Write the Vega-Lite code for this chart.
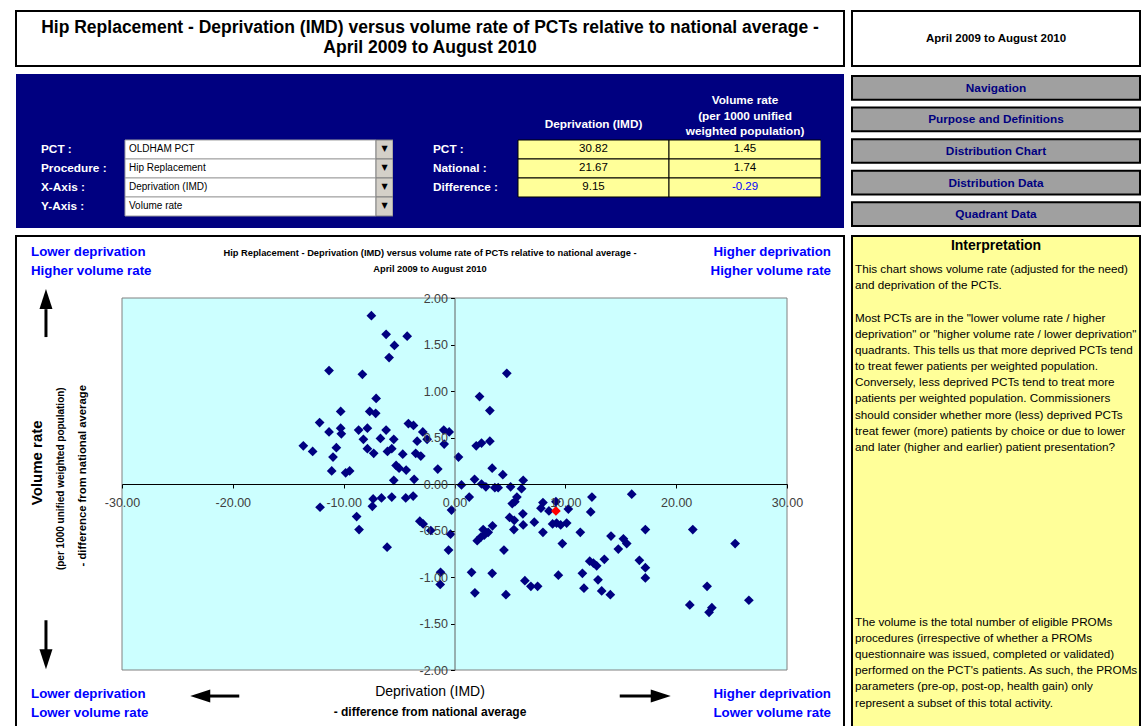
{
"$schema":"https://vega.github.io/schema/vega-lite/v6.json",
"padding":{"left":15,"top":10,"right":0,"bottom":0},
"background":"white",
"config":{"view":{"stroke":null},"font":"Liberation Sans","locale":{"number":{"decimal":".","thousands":",","grouping":[3],"currency":["",""],"minus":"-"}}},
"spacing":6,
"hconcat":[
 {"spacing":7,"vconcat":[
  {"width":828,"height":55,
   "view":{"fill":"white","stroke":"black","strokeWidth":2},
   "data":{"values":[{"title":"Hip Replacement - Deprivation (IMD) versus volume rate of PCTs relative to national average -\nApril 2009 to August 2010"}]},
   "mark":{"type":"text","lineBreak":"\n","lineHeight":20,"dy":-10.5,"fontSize":17.5,"fontWeight":"bold","color":"black"},
   "encoding":{"text":{"field":"title"}}},
  {"spacing":0,"bounds":"flush","hconcat":[
   {"width":109,"height":154,"view":{"fill":"#000080","stroke":null},
    "data":{"values":[{"row":"1","label":"PCT :"},{"row":"2","label":"Procedure :"},{"row":"3","label":"X-Axis :"},{"row":"4","label":"Y-Axis :"}]},
    "mark":{"type":"text","align":"left","dx":-29.5,"fontSize":11.8,"fontWeight":"bold","color":"white"},
    "encoding":{"y":{"field":"row","type":"ordinal","scale":{"type":"band","domain":["t1","t2","h","1","2","3","4"],"paddingInner":0,"paddingOuter":0.553,"align":0.4286},"axis":null},"text":{"field":"label"}}},
   {"width":251,"height":154,"view":{"fill":"#000080","stroke":null},
    "data":{"values":[{"row":"1","choice":"OLDHAM PCT"},{"row":"2","choice":"Hip Replacement"},{"row":"3","choice":"Deprivation (IMD)"},{"row":"4","choice":"Volume rate"}]},
    "encoding":{"y":{"field":"row","type":"ordinal","scale":{"type":"band","domain":["t1","t2","h","1","2","3","4"],"paddingInner":0,"paddingOuter":0.553,"align":0.4286},"axis":null}},
    "layer":[
     {"mark":{"type":"bar","fill":"white","stroke":"#A0A0A0","strokeWidth":1}},
     {"mark":{"type":"text","align":"left","dx":-121.5,"fontSize":10,"color":"black"},"encoding":{"text":{"field":"choice"}}}
    ]},
   {"width":17,"height":154,"view":{"fill":"#000080","stroke":null},
    "data":{"values":[{"row":"1"},{"row":"2"},{"row":"3"},{"row":"4"}]},
    "encoding":{"y":{"field":"row","type":"ordinal","scale":{"type":"band","domain":["t1","t2","h","1","2","3","4"],"paddingInner":0,"paddingOuter":0.553,"align":0.4286},"axis":null}},
    "layer":[
     {"mark":{"type":"bar","fill":"#D4D0C8","stroke":"#808080","strokeWidth":1}},
     {"mark":{"type":"text","text":"▼","fontSize":8,"color":"black","font":"DejaVu Sans"}}
    ]},
   {"width":125,"height":154,"view":{"fill":"#000080","stroke":null},
    "data":{"values":[{"row":"1","label":"PCT :"},{"row":"2","label":"National :"},{"row":"3","label":"Difference :"}]},
    "mark":{"type":"text","align":"left","dx":-22.5,"fontSize":11.8,"fontWeight":"bold","color":"white"},
    "encoding":{"y":{"field":"row","type":"ordinal","scale":{"type":"band","domain":["t1","t2","h","1","2","3","4"],"paddingInner":0,"paddingOuter":0.553,"align":0.4286},"axis":null},"text":{"field":"label"}}},
   {"width":151,"height":154,"view":{"fill":"#000080","stroke":null},
    "encoding":{"y":{"field":"row","type":"ordinal","scale":{"type":"band","domain":["t1","t2","h","1","2","3","4"],"paddingInner":0,"paddingOuter":0.553,"align":0.4286},"axis":null}},
    "layer":[
     {"data":{"values":[{"row":"1","value":30.82},{"row":"2","value":21.67},{"row":"3","value":9.15}]},
      "layer":[
       {"mark":{"type":"bar","fill":"#FFFF99","stroke":"black","strokeWidth":1}},
       {"mark":{"type":"text","fontSize":11.5,"color":"black"},"encoding":{"text":{"field":"value","type":"quantitative","format":".2f"}}}
      ]},
     {"data":{"values":[{"row":"h","head":"Deprivation (IMD)"}]},
      "mark":{"type":"text","dy":-6.5,"fontSize":11.8,"fontWeight":"bold","color":"white"},
      "encoding":{"text":{"field":"head"}}}
    ]},
   {"width":152,"height":154,"view":{"fill":"#000080","stroke":null},
    "encoding":{"y":{"field":"row","type":"ordinal","scale":{"type":"band","domain":["t1","t2","h","1","2","3","4"],"paddingInner":0,"paddingOuter":0.553,"align":0.4286},"axis":null}},
    "layer":[
     {"data":{"values":[{"row":"1","value":1.45},{"row":"2","value":1.74},{"row":"3","value":-0.29}]},
      "layer":[
       {"mark":{"type":"bar","fill":"#FFFF99","stroke":"black","strokeWidth":1}},
       {"mark":{"type":"text","fontSize":11.5},"encoding":{"text":{"field":"value","type":"quantitative","format":".2f"},"color":{"condition":{"test":"datum.value < 0","value":"#0000FF"},"value":"black"}}}
      ]},
     {"data":{"values":[{"row":"h","head":"Volume rate\n(per 1000 unified\nweighted population)"}]},
      "mark":{"type":"text","dy":-30.5,"lineBreak":"\n","lineHeight":15.5,"fontSize":11.8,"fontWeight":"bold","color":"white"},
      "encoding":{"text":{"field":"head"}}}
    ]},
   {"width":23,"height":154,"view":{"fill":"#000080","stroke":null},
    "data":{"values":[{}]},
    "mark":{"type":"text","text":""}}
  ]},
  {"width":828,"height":491,
   "view":{"fill":"white","stroke":"black","strokeWidth":2},
   "layer":[
    {"data":{"values":[{}]},
     "mark":{"type":"rect","fill":"#CCFFFF","stroke":"#808080","strokeWidth":1},
     "encoding":{
      "x":{"datum":-30,"type":"quantitative","title":null,"scale":{"domain":[-30,30],"range":[106,771],"nice":false,"zero":false},
           "axis":{"values":[-30,-20,-10,0,10,20,30],"format":".2f","offset":-243,"title":null,"grid":false,"zindex":1,"domainColor":"#000000","tickColor":"#000000","tickSize":4,"labelFontSize":12.5,"labelColor":"#404040","labelPadding":8,"labelFlush":false,"labelOverlap":false}},
      "x2":{"datum":30},
      "y":{"datum":-2,"type":"quantitative","title":null,"scale":{"domain":[-2,2],"range":[434,62],"nice":false,"zero":false},
           "axis":{"values":[-2,-1.5,-1,-0.5,0,0.5,1,1.5,2],"format":".2f","offset":-438.5,"title":null,"grid":false,"zindex":1,"domainColor":"#606060","tickColor":"#000000","tickSize":4,"labelFontSize":12.5,"labelColor":"#404040","labelPadding":3,"labelFlush":false,"labelOverlap":false}},
      "y2":{"datum":2}}},
    {"data":{"values":[
{"dep":-7.50,"vol":1.81,"pct":"Other PCTs"},{"dep":-6.17,"vol":1.61,"pct":"Other PCTs"},{"dep":-4.27,"vol":1.59,"pct":"Other PCTs"},{"dep":-5.42,"vol":1.49,"pct":"Other PCTs"},{"dep":-5.90,"vol":1.36,"pct":"Other PCTs"},{"dep":-11.32,"vol":1.22,"pct":"Other PCTs"},{"dep":-8.31,"vol":1.18,"pct":"Other PCTs"},{"dep":-7.07,"vol":0.92,"pct":"Other PCTs"},{"dep":-10.27,"vol":0.78,"pct":"Other PCTs"},{"dep":-7.65,"vol":0.78,"pct":"Other PCTs"},
{"dep":-7.11,"vol":0.76,"pct":"Other PCTs"},{"dep":-12.17,"vol":0.66,"pct":"Other PCTs"},{"dep":-4.16,"vol":0.65,"pct":"Other PCTs"},{"dep":-3.70,"vol":0.63,"pct":"Other PCTs"},{"dep":-11.32,"vol":0.56,"pct":"Other PCTs"},{"dep":-10.27,"vol":0.60,"pct":"Other PCTs"},{"dep":-10.21,"vol":0.54,"pct":"Other PCTs"},{"dep":-8.65,"vol":0.58,"pct":"Other PCTs"},{"dep":-7.86,"vol":0.60,"pct":"Other PCTs"},{"dep":-6.17,"vol":0.58,"pct":"Other PCTs"},
{"dep":-2.86,"vol":0.56,"pct":"Other PCTs"},{"dep":-0.97,"vol":0.58,"pct":"Other PCTs"},{"dep":-0.48,"vol":0.56,"pct":"Other PCTs"},{"dep":-13.64,"vol":0.41,"pct":"Other PCTs"},{"dep":-12.80,"vol":0.35,"pct":"Other PCTs"},{"dep":-10.66,"vol":0.39,"pct":"Other PCTs"},{"dep":-10.96,"vol":0.29,"pct":"Other PCTs"},{"dep":-8.22,"vol":0.48,"pct":"Other PCTs"},{"dep":-6.68,"vol":0.49,"pct":"Other PCTs"},{"dep":-5.48,"vol":0.48,"pct":"Other PCTs"},
{"dep":-3.37,"vol":0.46,"pct":"Other PCTs"},{"dep":-2.47,"vol":0.48,"pct":"Other PCTs"},{"dep":-0.93,"vol":0.43,"pct":"Other PCTs"},{"dep":-7.86,"vol":0.38,"pct":"Other PCTs"},{"dep":-7.29,"vol":0.33,"pct":"Other PCTs"},{"dep":-6.05,"vol":0.35,"pct":"Other PCTs"},{"dep":-5.66,"vol":0.38,"pct":"Other PCTs"},{"dep":-4.67,"vol":0.32,"pct":"Other PCTs"},{"dep":-3.50,"vol":0.33,"pct":"Other PCTs"},{"dep":-3.04,"vol":0.30,"pct":"Other PCTs"},
{"dep":0.36,"vol":0.29,"pct":"Other PCTs"},{"dep":-11.08,"vol":0.14,"pct":"Other PCTs"},{"dep":-9.82,"vol":0.12,"pct":"Other PCTs"},{"dep":-9.46,"vol":0.14,"pct":"Other PCTs"},{"dep":-5.27,"vol":0.20,"pct":"Other PCTs"},{"dep":-5.00,"vol":0.17,"pct":"Other PCTs"},{"dep":-4.36,"vol":0.15,"pct":"Other PCTs"},{"dep":-1.51,"vol":0.16,"pct":"Other PCTs"},{"dep":-5.48,"vol":0.04,"pct":"Other PCTs"},{"dep":-3.64,"vol":0.05,"pct":"Other PCTs"},
{"dep":4.72,"vol":1.19,"pct":"Other PCTs"},{"dep":2.26,"vol":0.94,"pct":"Other PCTs"},{"dep":3.19,"vol":0.79,"pct":"Other PCTs"},{"dep":1.96,"vol":0.41,"pct":"Other PCTs"},{"dep":2.44,"vol":0.44,"pct":"Other PCTs"},{"dep":3.19,"vol":0.46,"pct":"Other PCTs"},{"dep":3.40,"vol":0.17,"pct":"Other PCTs"},{"dep":4.36,"vol":0.10,"pct":"Other PCTs"},{"dep":1.81,"vol":0.05,"pct":"Other PCTs"},{"dep":0.63,"vol":-0.01,"pct":"Other PCTs"},
{"dep":2.44,"vol":0.00,"pct":"Other PCTs"},{"dep":2.83,"vol":-0.03,"pct":"Other PCTs"},{"dep":3.64,"vol":-0.04,"pct":"Other PCTs"},{"dep":3.94,"vol":-0.04,"pct":"Other PCTs"},{"dep":5.06,"vol":-0.03,"pct":"Other PCTs"},{"dep":6.20,"vol":0.04,"pct":"Other PCTs"},{"dep":6.05,"vol":-0.05,"pct":"Other PCTs"},
{"dep":-12.13,"vol":-0.25,"pct":"Other PCTs"},{"dep":-7.34,"vol":-0.16,"pct":"Other PCTs"},{"dep":-6.59,"vol":-0.15,"pct":"Other PCTs"},{"dep":-5.66,"vol":-0.14,"pct":"Other PCTs"},{"dep":-4.40,"vol":-0.15,"pct":"Other PCTs"},{"dep":-3.73,"vol":-0.13,"pct":"Other PCTs"},{"dep":-7.41,"vol":-0.24,"pct":"Other PCTs"},{"dep":-8.83,"vol":-0.35,"pct":"Other PCTs"},{"dep":-8.61,"vol":-0.49,"pct":"Other PCTs"},{"dep":-6.08,"vol":-0.68,"pct":"Other PCTs"},
{"dep":-3.13,"vol":-0.40,"pct":"Other PCTs"},{"dep":-2.83,"vol":-0.43,"pct":"Other PCTs"},{"dep":-2.14,"vol":-0.50,"pct":"Other PCTs"},{"dep":-0.27,"vol":-0.28,"pct":"Other PCTs"},{"dep":-0.36,"vol":-0.54,"pct":"Other PCTs"},{"dep":-0.54,"vol":-0.71,"pct":"Other PCTs"},{"dep":-1.26,"vol":-0.95,"pct":"Other PCTs"},{"dep":-1.29,"vol":-1.08,"pct":"Other PCTs"},
{"dep":1.33,"vol":-0.14,"pct":"Other PCTs"},{"dep":5.63,"vol":-0.14,"pct":"Other PCTs"},{"dep":5.45,"vol":-0.19,"pct":"Other PCTs"},{"dep":5.21,"vol":-0.21,"pct":"Other PCTs"},{"dep":4.97,"vol":-0.36,"pct":"Other PCTs"},{"dep":5.39,"vol":-0.39,"pct":"Other PCTs"},{"dep":6.17,"vol":-0.32,"pct":"Other PCTs"},{"dep":6.20,"vol":-0.44,"pct":"Other PCTs"},{"dep":5.36,"vol":-0.49,"pct":"Other PCTs"},{"dep":7.20,"vol":-0.41,"pct":"Other PCTs"},
{"dep":7.98,"vol":-0.20,"pct":"Other PCTs"},{"dep":7.80,"vol":-0.26,"pct":"Other PCTs"},{"dep":8.52,"vol":-0.29,"pct":"Other PCTs"},{"dep":9.15,"vol":-0.19,"pct":"Other PCTs"},{"dep":10.27,"vol":-0.27,"pct":"Other PCTs"},{"dep":12.40,"vol":-0.14,"pct":"Other PCTs"},{"dep":12.29,"vol":-0.30,"pct":"Other PCTs"},{"dep":8.85,"vol":-0.43,"pct":"Other PCTs"},{"dep":9.21,"vol":-0.42,"pct":"Other PCTs"},{"dep":9.58,"vol":-0.44,"pct":"Other PCTs"},
{"dep":10.12,"vol":-0.42,"pct":"Other PCTs"},{"dep":7.98,"vol":-0.52,"pct":"Other PCTs"},{"dep":11.35,"vol":-0.52,"pct":"Other PCTs"},{"dep":9.73,"vol":-0.64,"pct":"Other PCTs"},{"dep":14.12,"vol":-0.56,"pct":"Other PCTs"},{"dep":14.78,"vol":-0.70,"pct":"Other PCTs"},{"dep":3.43,"vol":-0.45,"pct":"Other PCTs"},{"dep":2.59,"vol":-0.49,"pct":"Other PCTs"},{"dep":3.04,"vol":-0.52,"pct":"Other PCTs"},{"dep":2.68,"vol":-0.55,"pct":"Other PCTs"},
{"dep":2.38,"vol":-0.57,"pct":"Other PCTs"},{"dep":2.05,"vol":-0.61,"pct":"Other PCTs"},{"dep":4.46,"vol":-0.71,"pct":"Other PCTs"},{"dep":12.20,"vol":-0.83,"pct":"Other PCTs"},{"dep":12.53,"vol":-0.85,"pct":"Other PCTs"},{"dep":12.83,"vol":-0.88,"pct":"Other PCTs"},{"dep":13.52,"vol":-0.81,"pct":"Other PCTs"},{"dep":1.54,"vol":-0.95,"pct":"Other PCTs"},{"dep":3.40,"vol":-0.96,"pct":"Other PCTs"},{"dep":9.37,"vol":-0.98,"pct":"Other PCTs"},
{"dep":11.54,"vol":-0.96,"pct":"Other PCTs"},{"dep":12.95,"vol":-1.03,"pct":"Other PCTs"},{"dep":6.35,"vol":-1.04,"pct":"Other PCTs"},{"dep":6.89,"vol":-1.10,"pct":"Other PCTs"},{"dep":7.50,"vol":-1.10,"pct":"Other PCTs"},{"dep":1.84,"vol":-1.17,"pct":"Other PCTs"},{"dep":4.64,"vol":-1.19,"pct":"Other PCTs"},{"dep":11.68,"vol":-1.12,"pct":"Other PCTs"},{"dep":13.28,"vol":-1.15,"pct":"Other PCTs"},{"dep":14.06,"vol":-1.19,"pct":"Other PCTs"},
{"dep":15.99,"vol":-0.11,"pct":"Other PCTs"},{"dep":17.22,"vol":-0.49,"pct":"Other PCTs"},{"dep":21.50,"vol":-0.49,"pct":"Other PCTs"},{"dep":15.24,"vol":-0.59,"pct":"Other PCTs"},{"dep":15.54,"vol":-0.64,"pct":"Other PCTs"},{"dep":25.32,"vol":-0.64,"pct":"Other PCTs"},{"dep":16.68,"vol":-0.82,"pct":"Other PCTs"},{"dep":17.22,"vol":-0.90,"pct":"Other PCTs"},{"dep":17.22,"vol":-1.01,"pct":"Other PCTs"},{"dep":22.79,"vol":-1.10,"pct":"Other PCTs"},
{"dep":26.56,"vol":-1.25,"pct":"Other PCTs"},{"dep":21.23,"vol":-1.30,"pct":"Other PCTs"},{"dep":23.22,"vol":-1.33,"pct":"Other PCTs"},{"dep":22.97,"vol":-1.38,"pct":"Other PCTs"},
{"dep":9.15,"vol":-0.29,"pct":"OLDHAM PCT"}
     ]},
     "mark":{"type":"point","shape":"diamond","filled":true,"opacity":1,"size":95},
     "encoding":{
      "x":{"field":"dep","type":"quantitative","title":null},
      "y":{"field":"vol","type":"quantitative","title":null},
      "color":{"field":"pct","type":"nominal","scale":{"domain":["Other PCTs","OLDHAM PCT"],"range":["#000080","#FF0000"]},"legend":null}}},
    {"data":{"values":[{}]},
     "mark":{"type":"text","text":"Hip Replacement - Deprivation (IMD) versus volume rate of PCTs relative to national average -\nApril 2009 to August 2010","lineBreak":"\n","lineHeight":16,"fontSize":9.3,"fontWeight":"bold","color":"black"},
     "encoding":{"y":{"datum":2.484,"type":"quantitative","title":null}}},
    {"data":{"values":[{}]},
     "mark":{"type":"text","text":"Lower deprivation\nHigher volume rate","lineBreak":"\n","lineHeight":19,"align":"left","fontSize":13.3,"fontWeight":"bold","color":"#0000FF"},
     "encoding":{"x":{"datum":-38.21,"type":"quantitative","title":null},"y":{"datum":2.495,"type":"quantitative","title":null}}},
    {"data":{"values":[{}]},
     "mark":{"type":"text","text":"Higher deprivation\nHigher volume rate","lineBreak":"\n","lineHeight":19,"align":"right","fontSize":13.3,"fontWeight":"bold","color":"#0000FF"},
     "encoding":{"x":{"datum":33.97,"type":"quantitative","title":null},"y":{"datum":2.495,"type":"quantitative","title":null}}},
    {"data":{"values":[{}]},
     "mark":{"type":"text","text":"Lower deprivation\nLower volume rate","lineBreak":"\n","lineHeight":19,"align":"left","fontSize":13.3,"fontWeight":"bold","color":"#0000FF"},
     "encoding":{"x":{"datum":-38.21,"type":"quantitative","title":null},"y":{"datum":-2.258,"type":"quantitative","title":null}}},
    {"data":{"values":[{}]},
     "mark":{"type":"text","text":"Higher deprivation\nLower volume rate","lineBreak":"\n","lineHeight":19,"align":"right","fontSize":13.3,"fontWeight":"bold","color":"#0000FF"},
     "encoding":{"x":{"datum":33.97,"type":"quantitative","title":null},"y":{"datum":-2.258,"type":"quantitative","title":null}}},
    {"data":{"values":[{}]},
     "mark":{"type":"text","text":"Deprivation (IMD)","fontSize":14,"color":"black"},
     "encoding":{"y":{"datum":-2.237,"type":"quantitative","title":null}}},
    {"data":{"values":[{}]},
     "mark":{"type":"text","text":"- difference from national average","fontSize":12,"fontWeight":"bold","color":"black"},
     "encoding":{"y":{"datum":-2.451,"type":"quantitative","title":null}}},
    {"data":{"values":[{}]},
     "mark":{"type":"text","text":"Volume rate","angle":270,"fontSize":15,"fontWeight":"bold","color":"black"},
     "encoding":{"x":{"datum":-37.67,"type":"quantitative","title":null},"y":{"datum":0.228,"type":"quantitative","title":null}}},
    {"data":{"values":[{}]},
     "mark":{"type":"text","text":"(per 1000 unified weighted population)","angle":270,"fontSize":10,"fontWeight":"bold","color":"black"},
     "encoding":{"x":{"datum":-35.5,"type":"quantitative","title":null},"y":{"datum":0.057,"type":"quantitative","title":null}}},
    {"data":{"values":[{}]},
     "mark":{"type":"text","text":"- difference from national average","angle":270,"fontSize":11.3,"fontWeight":"bold","color":"black"},
     "encoding":{"x":{"datum":-33.51,"type":"quantitative","title":null},"y":{"datum":0.089,"type":"quantitative","title":null}}},
    {"data":{"values":[{}]},
     "mark":{"type":"rule","strokeWidth":3,"color":"black"},
     "encoding":{"x":{"datum":-36.86,"type":"quantitative","title":null},"y":{"datum":1.58,"type":"quantitative","title":null},"y2":{"datum":1.88}}},
    {"data":{"values":[{}]},
     "mark":{"type":"point","shape":"M0,-1L0.65,1L-0.65,1Z","filled":true,"opacity":1,"color":"black","size":400,"angle":0},
     "encoding":{"x":{"datum":-36.86,"type":"quantitative","title":null},"y":{"datum":1.99,"type":"quantitative","title":null}}},
    {"data":{"values":[{}]},
     "mark":{"type":"rule","strokeWidth":3,"color":"black"},
     "encoding":{"x":{"datum":-36.86,"type":"quantitative","title":null},"y":{"datum":-1.465,"type":"quantitative","title":null},"y2":{"datum":-1.787}}},
    {"data":{"values":[{}]},
     "mark":{"type":"point","shape":"M0,-1L0.65,1L-0.65,1Z","filled":true,"opacity":1,"color":"black","size":400,"angle":180},
     "encoding":{"x":{"datum":-36.86,"type":"quantitative","title":null},"y":{"datum":-1.884,"type":"quantitative","title":null}}},
    {"data":{"values":[{}]},
     "mark":{"type":"rule","strokeWidth":3,"color":"black"},
     "encoding":{"y":{"datum":-2.28,"type":"quantitative","title":null},"x":{"datum":-22.13,"type":"quantitative","title":null},"x2":{"datum":-19.42}}},
    {"data":{"values":[{}]},
     "mark":{"type":"point","shape":"M0,-1L0.65,1L-0.65,1Z","filled":true,"opacity":1,"color":"black","size":400,"angle":270},
     "encoding":{"x":{"datum":-22.94,"type":"quantitative","title":null},"y":{"datum":-2.28,"type":"quantitative","title":null}}},
    {"data":{"values":[{}]},
     "mark":{"type":"rule","strokeWidth":3,"color":"black"},
     "encoding":{"y":{"datum":-2.28,"type":"quantitative","title":null},"x":{"datum":14.91,"type":"quantitative","title":null},"x2":{"datum":17.8}}},
    {"data":{"values":[{}]},
     "mark":{"type":"point","shape":"M0,-1L0.65,1L-0.65,1Z","filled":true,"opacity":1,"color":"black","size":400,"angle":90},
     "encoding":{"x":{"datum":18.61,"type":"quantitative","title":null},"y":{"datum":-2.28,"type":"quantitative","title":null}}}
   ]}
 ]},
 {"spacing":8,"vconcat":[
  {"width":288,"height":55,
   "view":{"fill":"white","stroke":"black","strokeWidth":2},
   "data":{"values":[{"period":"April 2009 to August 2010"}]},
   "mark":{"type":"text","fontSize":11.5,"fontWeight":"bold","color":"black"},
   "encoding":{"text":{"field":"period"}}},
  {"width":288,"height":150,
   "data":{"values":[{"button":"Navigation"},{"button":"Purpose and Definitions"},{"button":"Distribution Chart"},{"button":"Distribution Data"},{"button":"Quadrant Data"}]},
   "encoding":{"y":{"field":"button","type":"nominal","sort":null,"scale":{"type":"band","paddingInner":0.25,"paddingOuter":0},"axis":null}},
   "layer":[
    {"mark":{"type":"bar","fill":"#A0A0A0","stroke":"black","strokeWidth":2}},
    {"mark":{"type":"text","fontSize":11.8,"fontWeight":"bold","color":"#000080"},"encoding":{"text":{"field":"button"}}}
   ]},
  {"width":288,"height":491,
   "view":{"fill":"#FFFF99","stroke":"black","strokeWidth":2},
   "layer":[
    {"data":{"values":[{"line":0,"text":"Interpretation"}]},
     "mark":{"type":"text","fontSize":14,"fontWeight":"bold","dy":-7,"color":"black"},
     "encoding":{"y":{"field":"line","type":"quantitative","scale":{"domain":[-1.04,29.31],"reverse":true,"nice":false,"zero":false},"axis":null},"text":{"field":"text"}}},
    {"data":{"values":[
      {"line":1,"text":"This chart shows volume rate (adjusted for the need)"},
      {"line":2,"text":"and deprivation of the PCTs."},
      {"line":4,"text":"Most PCTs are in the \"lower volume rate / higher"},
      {"line":5,"text":"deprivation\" or \"higher volume rate / lower deprivation\""},
      {"line":6,"text":"quadrants. This tells us that more deprived PCTs tend"},
      {"line":7,"text":"to treat fewer patients per weighted population."},
      {"line":8,"text":"Conversely, less deprived PCTs tend to treat more"},
      {"line":9,"text":"patients per weighted population. Commissioners"},
      {"line":10,"text":"should consider whether more (less) deprived PCTs"},
      {"line":11,"text":"treat fewer (more) patients by choice or due to lower"},
      {"line":12,"text":"and later (higher and earlier) patient presentation?"},
      {"line":22.8,"text":"The volume is the total number of eligible PROMs"},
      {"line":23.8,"text":"procedures (irrespective of whether a PROMs"},
      {"line":24.8,"text":"questionnaire was issued, completed or validated)"},
      {"line":25.8,"text":"performed on the PCT's patients. As such, the PROMs"},
      {"line":26.8,"text":"parameters (pre-op, post-op, health gain) only"},
      {"line":27.8,"text":"represent a subset of this total activity."}
     ]},
     "mark":{"type":"text","align":"left","dx":-141,"fontSize":11.7,"color":"black"},
     "encoding":{"y":{"field":"line","type":"quantitative","scale":{"domain":[-1.04,29.31],"reverse":true,"nice":false,"zero":false},"axis":null},"text":{"field":"text"}}}
   ]}
 ]}
]
}
